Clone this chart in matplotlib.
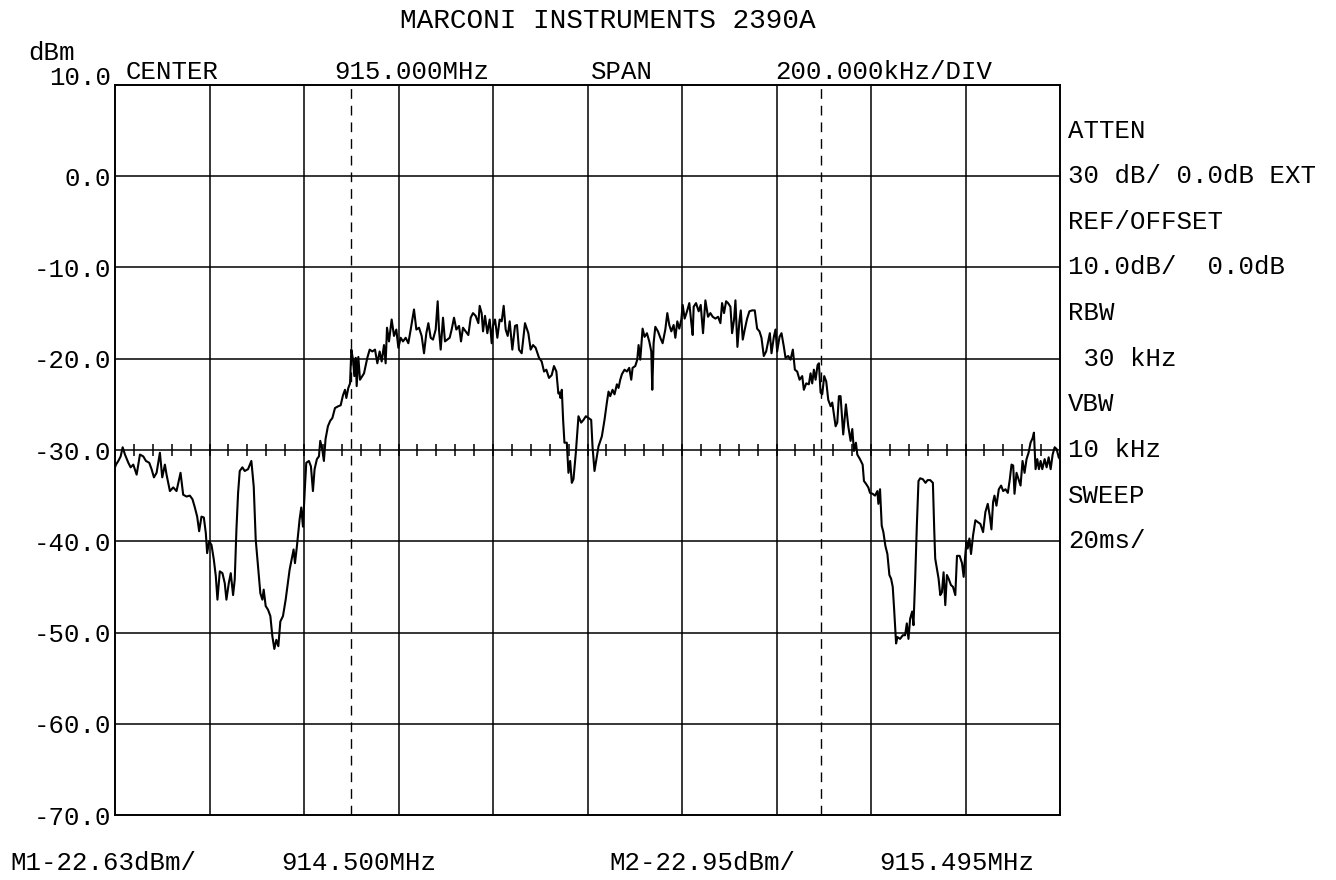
import numpy as np
import matplotlib
matplotlib.use("Agg")
import matplotlib.pyplot as plt

# Cài đặt font kiểu máy vẽ (plotter)
plt.rcParams['font.family'] = ['Liberation Mono', 'DejaVu Sans Mono']

# Thông số máy phân tích phổ
title = "MARCONI INSTRUMENTS 2390A"
start_mhz = 914.0
center_mhz = 915.0
span_khz_div = 200.0
n_div_x = 10
y_ticks = [10, 0, -10, -20, -30, -40, -50, -60, -70]
y_tick_labels = ["10.0", "0.0", "-10.0", "-20.0", "-30.0", "-40.0", "-50.0", "-60.0", "-70.0"]
minor_per_div = 5
minor_line_dbm = -30

side_labels = ["ATTEN", "30 dB/ 0.0dB EXT", "REF/OFFSET", "10.0dB/  0.0dB",
               "RBW", " 30 kHz", "VBW", "10 kHz", "SWEEP", "20ms/"]
side_levels = [5, 0, -5, -10, -15, -20, -25, -30, -35, -40]

marker_mhz = [914.500, 915.495]
marker_dbm = [-22.63, -22.95]

# Vết phổ: tần số lệch so với 914.000 MHz (kHz) và mức (dBm)
trace_khz = [
    0.0, 2.1, 7.0, 12.0, 16.2, 21.1, 28.2, 33.1, 38.7, 45.8,
    52.8, 59.8, 65.5, 72.5, 77.4, 82.4, 88.0, 95.0, 100.0, 105.6,
    109.1, 116.2, 123.2, 130.2, 138.7, 144.3, 151.4, 158.4, 164.0, 169.0,
    173.9, 178.1, 183.0, 188.0, 192.2, 195.0, 199.2, 204.2, 209.1, 213.3,
    216.8, 221.8, 227.4, 232.3, 235.8, 240.8, 245.0, 249.9, 253.4, 257.0,
    260.5, 264.0, 269.6, 274.6, 281.6, 288.6, 293.6, 297.8, 302.7, 307.6,
    311.9, 314.7, 318.9, 323.8, 328.8, 333.0, 337.2, 341.4, 345.7, 349.9,
    355.5, 361.2, 369.6, 375.2, 378.0, 380.9, 385.1, 390.7, 394.2, 397.8,
    402.0, 404.8, 410.4, 414.7, 418.9, 422.4, 427.3, 431.6, 434.4, 438.6,
    442.1, 445.6, 450.6, 455.5,
    460.0, 465.6, 472.7, 477.6, 482.5, 486.8, 489.6, 493.8, 497.4, 500.2,
    503.7, 506.5, 509.4, 511.5, 515.0, 518.5, 527.0, 534.0, 539.0, 544.6,
    550.3, 555.2, 560.1, 564.4, 569.3, 572.8, 575.7, 579.9, 585.5, 590.5,
    595.4, 599.7, 604.6, 609.5, 615.2, 620.8, 625.8, 632.8, 637.8, 643.4,
    649.0, 654.0, 658.9, 663.2, 668.1, 673.0, 678.7, 682.9, 685.7, 689.3,
    694.2, 698.4, 703.4, 708.3, 712.5, 717.5, 722.4, 728.1, 732.3, 736.5,
    742.2, 747.8, 752.8, 757.7, 763.3, 769.0, 771.8, 776.0, 778.9, 783.1,
    788.0, 793.0, 797.2, 800.0, 804.3, 809.2, 814.1, 818.4, 822.6, 826.8,
    831.1, 835.3, 840.9, 846.6, 850.8, 855.0, 860.7, 867.7, 874.8, 879.7,
    884.7, 890.3, 897.4, 903.0, 908.0, 912.9, 918.5, 924.2, 929.1, 934.1,
    938.3,
    940.6, 942.8, 945.6, 948.4, 951.2, 956.2, 959.7, 963.3, 966.8, 970.3,
    975.3, 980.9, 986.6, 991.5, 996.5, 1002.1, 1007.8, 1010.6, 1014.8, 1019.8,
    1023.3, 1030.4, 1036.0, 1041.0, 1044.5, 1048.1, 1053.0, 1057.2, 1062.2, 1065.7,
    1069.3, 1072.8, 1078.4, 1083.4, 1088.3, 1092.6, 1095.4, 1101.1, 1105.3, 1108.1,
    1111.7, 1116.6, 1120.8, 1125.8, 1130.7, 1135.0, 1137.1, 1139.9, 1143.5, 1149.1,
    1154.1, 1159.0, 1164.7, 1168.9, 1173.1, 1177.4, 1182.3, 1185.9, 1190.1, 1194.3,
    1198.6, 1201.4, 1205.6, 1210.6, 1215.5, 1219.8, 1222.6, 1224.7, 1229.7, 1235.3,
    1239.6, 1244.5, 1249.5, 1255.1, 1260.1, 1265.0, 1270.7, 1276.3, 1281.3, 1284.8,
    1289.0, 1293.3, 1297.5, 1302.5, 1306.0, 1310.2, 1313.1, 1317.3, 1321.5, 1324.4,
    1328.6, 1332.8, 1337.8, 1342.7, 1348.4, 1354.0, 1359.0, 1364.0, 1368.2, 1373.1,
    1378.1, 1382.3, 1385.9, 1389.4, 1394.4, 1397.9, 1401.4, 1406.4, 1410.6, 1415.6,
    1419.1, 1424.8, 1429.7, 1434.6, 1438.9, 1443.8, 1448.8, 1454.4, 1457.9, 1462.9,
    1468.5, 1472.1, 1475.6, 1479.1, 1482.7, 1486.9, 1489.7, 1493.3, 1496.8, 1501.0,
    1505.3, 1509.5, 1514.5, 1518.0, 1521.5, 1525.1, 1528.6, 1532.1,
    1535.6, 1541.2, 1546.9, 1551.9, 1556.8, 1560.4, 1563.9, 1568.1, 1571.0, 1576.6,
    1582.3, 1585.1, 1589.4, 1594.3, 1597.9, 1603.5, 1608.5, 1613.5, 1615.6, 1619.1,
    1622.7, 1626.2, 1630.4, 1634.7, 1638.9, 1642.5, 1646.0, 1648.9, 1653.1, 1655.9,
    1661.6, 1667.3, 1672.2, 1675.8, 1679.3, 1682.8, 1687.1, 1689.9, 1693.5, 1697.0,
    1700.5, 1704.1, 1709.7, 1715.4, 1719.7, 1725.3, 1731.0, 1733.8, 1735.9, 1739.5,
    1743.0, 1746.6, 1750.1, 1753.6, 1757.2, 1760.7, 1764.3, 1769.2, 1773.5, 1778.4,
    1782.0, 1787.6, 1792.6, 1796.1, 1798.9, 1801.8, 1804.6, 1808.2, 1811.7, 1815.9,
    1820.9, 1825.9, 1831.5, 1837.2, 1842.1, 1847.1, 1851.3, 1854.9, 1858.4, 1861.3,
    1865.5, 1870.5, 1875.4, 1879.7, 1884.6, 1889.6, 1893.8, 1897.4, 1900.9, 1903.7,
    1908.0, 1912.2, 1916.5, 1920.7, 1925.0, 1929.2, 1933.5, 1937.7, 1942.0, 1944.8,
    1948.3, 1951.9, 1955.4, 1959.0, 1962.5, 1967.5, 1971.7, 1976.0, 1980.2, 1984.4,
    1988.7, 1992.9, 1997.2, 2000.0,
]
trace_dbm = [
    -31.9, -31.6, -31.2, -30.7, -29.7, -30.5, -31.4, -31.9, -31.6, -32.7,
    -30.5, -30.7, -31.2, -31.4, -32.1, -33.0, -32.5, -30.3, -33.0, -31.6,
    -32.7, -34.5, -34.1, -34.5, -32.5, -34.9, -35.1, -35.0, -35.4, -36.3,
    -37.3, -38.9, -37.3, -37.4, -39.1, -41.3, -40.0, -40.4, -42.0, -43.8,
    -46.4, -43.3, -43.5, -44.6, -46.4, -44.6, -43.5, -45.9, -44.2, -38.7,
    -34.7, -32.3, -31.9, -32.3, -32.1, -31.2, -34.0, -39.8, -42.7, -45.7,
    -46.4, -45.3, -47.1, -47.5, -48.2, -50.4, -51.8, -50.8, -51.5, -48.8,
    -48.2, -46.4, -43.1, -41.6, -40.9, -42.4, -40.5, -37.6, -36.3, -38.4,
    -34.0, -31.4, -31.2, -31.8, -34.5, -32.1, -31.0, -30.7, -29.0, -29.9,
    -31.2, -28.8, -27.4, -26.8,
    -26.5, -25.4, -25.2, -25.1, -24.0, -23.4, -24.3, -23.2, -22.7, -19.0,
    -20.1, -21.9, -19.9, -23.0, -19.8, -22.3, -21.6, -19.9, -19.0, -19.2,
    -19.0, -20.5, -19.2, -20.3, -18.5, -20.5, -16.6, -18.1, -15.7, -17.5,
    -16.8, -18.8, -17.7, -18.1, -17.7, -18.3, -16.8, -14.6, -16.8, -16.6,
    -17.5, -19.4, -17.2, -16.1, -17.7, -17.9, -16.8, -13.7, -16.8, -19.0,
    -15.5, -18.1, -17.9, -17.7, -16.8, -15.5, -16.8, -16.4, -18.1, -16.6,
    -17.0, -17.4, -15.5, -15.0, -15.3, -16.1, -14.2, -15.0, -17.0, -15.3,
    -17.2, -15.7, -18.3, -16.4, -15.7, -17.7, -15.7, -15.9, -14.2, -16.8,
    -17.5, -15.9, -19.0, -16.4, -16.3, -19.0, -19.4, -16.1, -17.2, -19.0,
    -18.5, -18.8, -19.9, -20.3, -21.4, -21.2, -22.1, -21.8, -20.8, -21.4,
    -23.8,
    -23.7, -24.3, -23.4, -26.7, -29.2, -29.2, -32.5, -31.2, -33.6, -33.2,
    -30.3, -26.3, -27.0, -26.7, -26.3, -26.5, -26.7, -29.6, -32.3, -30.7,
    -29.6, -28.5, -26.7, -24.8, -23.6, -24.1, -23.4, -23.9, -22.8, -23.2,
    -22.3, -21.7, -21.2, -21.4, -21.0, -22.3, -21.0, -20.8, -20.1, -18.5,
    -20.1, -16.7, -17.6, -17.2, -18.1, -19.2, -23.4, -18.3, -16.5, -17.0,
    -17.7, -18.3, -16.8, -15.0, -16.3, -17.0, -16.3, -17.7, -15.9, -16.7,
    -15.7, -14.1, -15.6, -14.8, -13.9, -16.1, -17.4, -14.3, -13.9, -14.8,
    -14.1, -17.2, -13.6, -15.4, -15.0, -15.4, -15.6, -15.4, -16.1, -13.9,
    -15.0, -13.7, -13.9, -14.3, -17.2, -15.7, -13.6, -18.7, -15.9, -14.7,
    -17.9, -16.8, -15.6, -14.8, -14.7, -14.7, -16.7, -17.0, -17.7, -19.7,
    -19.2, -18.1, -17.2, -19.4, -17.6, -16.8, -19.2, -17.6, -17.2, -18.7,
    -19.9, -19.7, -20.1, -19.0, -21.2, -21.4, -22.3, -21.9, -23.4, -22.7,
    -22.8, -21.6, -22.7, -21.2, -22.3, -20.7, -20.5, -23.7, -23.9, -21.9,
    -22.5, -24.5, -25.2, -24.8, -26.1, -27.4, -27.0, -24.1,
    -24.1, -28.3, -25.0, -27.4, -29.0, -27.7, -30.1, -29.2, -30.5, -31.0,
    -31.6, -33.4, -33.7, -34.1, -34.7, -34.8, -35.0, -34.5, -35.9, -34.3,
    -38.3, -39.0, -40.5, -41.4, -43.7, -44.1, -45.0, -47.4, -51.2, -50.5,
    -50.7, -50.3, -50.3, -49.0, -50.7, -48.5, -47.7, -49.2, -44.1, -38.3,
    -33.4, -33.1, -33.2, -33.6, -33.3, -33.3, -33.6, -38.7, -41.9, -43.0,
    -44.1, -45.9, -45.6, -43.4, -47.0, -43.7, -44.1, -44.8, -45.0, -45.9,
    -41.6, -41.6, -42.4, -43.9, -41.9, -40.1, -40.8, -39.7, -41.4, -39.4,
    -37.7, -37.9, -38.1, -39.0, -36.8, -35.9, -37.2, -38.7, -35.7, -35.0,
    -36.1, -34.3, -33.9, -34.5, -34.3, -34.7, -33.2, -31.6, -31.7, -34.8,
    -32.5, -33.2, -33.9, -31.2, -32.5, -31.0, -30.3, -29.2, -28.7, -28.1,
    -32.1, -31.0, -32.1, -31.2, -32.1, -31.0, -31.9, -30.8, -32.1, -30.5,
    -29.7, -29.9, -30.8, -31.0,
]

W, H = 1336, 880
FS = 18.5
fig = plt.figure(figsize=(W / 100, H / 100), dpi=100)
fig.patch.set_facecolor('white')
ax = fig.add_axes([115 / W, 1 - 815 / H, 945 / W, 730 / H])

stop_mhz = start_mhz + n_div_x * span_khz_div / 1000
freq = start_mhz + np.array(trace_khz) / 1000

# Lưới ô vuông
for i in range(1, n_div_x):
    ax.axvline(start_mhz + i * span_khz_div / 1000, color='black', lw=1.1, zorder=1)
for v in y_ticks[1:-1]:
    ax.axhline(v, color='black', lw=1.1, zorder=1)

# Vạch chia nhỏ trên đường -30 dBm
minor = start_mhz + np.arange(0, n_div_x * minor_per_div + 1) * span_khz_div / 1000 / minor_per_div
ax.plot(minor, [minor_line_dbm] * len(minor), linestyle='none', marker='|',
        markersize=8, markeredgewidth=1.1, color='black', zorder=2)

# Đường marker
for m in marker_mhz:
    ax.axvline(m, color='black', lw=1.0, ls=(0, (7, 5)), zorder=2)

# Vết phổ
ax.plot(freq, trace_dbm, color='black', lw=1.5, zorder=3)

ax.set_xlim(start_mhz, stop_mhz)
ax.set_ylim(y_ticks[-1], y_ticks[0])
ax.set_xticks([])
ax.set_yticks(y_ticks)
ax.set_yticklabels(y_tick_labels, fontsize=FS)
ax.tick_params(axis='y', length=0, pad=3)
ax.get_yticklabels()[0].set_verticalalignment('baseline')
for s in ax.spines.values():
    s.set_linewidth(1.4)

# Chữ phía trên
fig.text(608 / W, 1 - 28 / H, title, fontsize=20, ha='center', va='baseline')
fig.text(28 / W, 1 - 60 / H, "dBm", fontsize=FS, ha='left', va='baseline')
top_y = 1 - 79 / H
fig.text(126 / W, top_y, "CENTER", fontsize=FS, va='baseline')
fig.text(334 / W, top_y, "%.3fMHz" % center_mhz, fontsize=FS, va='baseline')
fig.text(591 / W, top_y, "SPAN", fontsize=FS, va='baseline')
fig.text(775 / W, top_y, "%.3fkHz/DIV" % span_khz_div, fontsize=FS, va='baseline')

# Thông số bên phải
for lbl, lv in zip(side_labels, side_levels):
    ax.text((1068 - 115) / 945, lv, lbl, transform=ax.get_yaxis_transform(),
            fontsize=FS, ha='left', va='center', clip_on=False)

# Kết quả marker phía dưới
bot_y = 1 - 870 / H
xs = [(10, 281), (609, 879)]
for i in range(len(marker_mhz)):
    fig.text(xs[i][0] / W, bot_y, "M%d%.2fdBm/" % (i + 1, marker_dbm[i]), fontsize=FS, va='baseline')
    fig.text(xs[i][1] / W, bot_y, "%.3fMHz" % marker_mhz[i], fontsize=FS, va='baseline')

fig.savefig("out.png", dpi=100)
